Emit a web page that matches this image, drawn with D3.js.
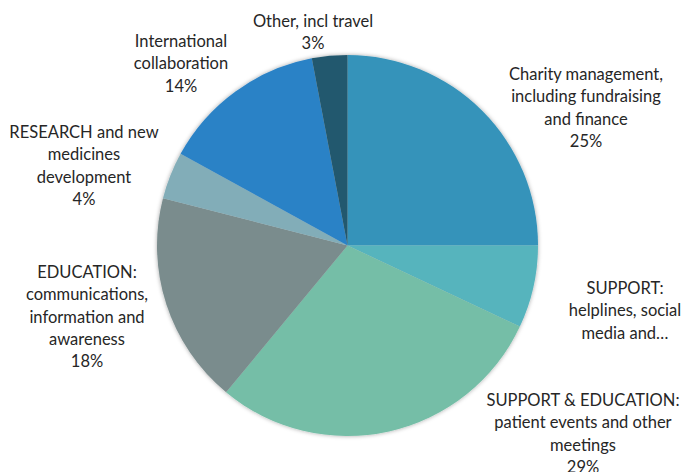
<!DOCTYPE html>
<html>
<head>
<meta charset="utf-8">
<script src="https://cdn.jsdelivr.net/npm/d3@7"></script>
<style>
  body { margin: 0; background: #fff; }
  .label { font-family: Lato, "Open Sans", sans-serif; font-size: 16.5px; fill: #262626; }
</style>
</head>
<body>
<div id="chart"></div>
<script>
// slices, clockwise from 12 o'clock
var categories = [
  'Charity management, including fundraising and finance',
  'SUPPORT: helplines, social media and...',
  'SUPPORT & EDUCATION: patient events and other meetings',
  'EDUCATION: communications, information and awareness',
  'RESEARCH and new medicines development',
  'International collaboration',
  'Other, incl travel'
];
var values = [25, 7, 29, 18, 4, 14, 3];
var colors = ['#3493ba', '#56b4bd', '#74bea7', '#7a8c8d', '#82adb8', '#2b82c6', '#23586e'];

// label text as drawn (wrapped); the helplines one is cut off in the original
var labelLines = [
  ['Charity management,', 'including fundraising', 'and finance'],
  ['SUPPORT:', 'helplines, social', 'media and\u2026'],
  ['SUPPORT & EDUCATION:', 'patient events and other', 'meetings'],
  ['EDUCATION:', 'communications,', 'information and', 'awareness'],
  ['RESEARCH and new', 'medicines', 'development'],
  ['International', 'collaboration'],
  ['Other, incl travel']
];
var showPct = [true, false, true, true, true, true, true];
// centre x and first baseline of each label block
var labelPos = [[586, 80], [625, 294], [583, 406], [87, 278], [84, 138], [181, 47], [313, 27]];

var width = 686, height = 472;
var cx = 347.5, cy = 245.5, radius = 190.5;
var lineH = 22.3;

var svg = d3.select('#chart').append('svg')
  .attr('width', width)
  .attr('height', height);

var defs = svg.append('defs');
var f = defs.append('filter').attr('id', 'shadow')
  .attr('x', '-10%').attr('y', '-10%').attr('width', '120%').attr('height', '120%');
f.append('feDropShadow')
  .attr('dx', 0).attr('dy', 0)
  .attr('stdDeviation', 2)
  .attr('flood-color', '#000')
  .attr('flood-opacity', 0.35);

var pie = d3.pie().sort(null).value(function (d) { return d; });
var arc = d3.arc().innerRadius(0).outerRadius(radius);

var g = svg.append('g')
  .attr('transform', 'translate(' + cx + ',' + cy + ')')
  .attr('filter', 'url(#shadow)');

g.selectAll('path')
  .data(pie(values))
  .enter()
  .append('path')
  .attr('d', arc)
  .attr('fill', function (d, i) { return colors[i]; });

var labels = svg.append('g');
categories.forEach(function (c, i) {
  var lines = labelLines[i].slice();
  if (showPct[i]) lines.push(values[i] + '%');
  var t = labels.append('text')
    .attr('class', 'label')
    .attr('text-anchor', 'middle')
    .attr('x', labelPos[i][0])
    .attr('y', labelPos[i][1]);
  lines.forEach(function (l, j) {
    t.append('tspan')
      .attr('x', labelPos[i][0])
      .attr('dy', j === 0 ? 0 : lineH)
      .text(l);
  });
});
</script>
</body>
</html>
